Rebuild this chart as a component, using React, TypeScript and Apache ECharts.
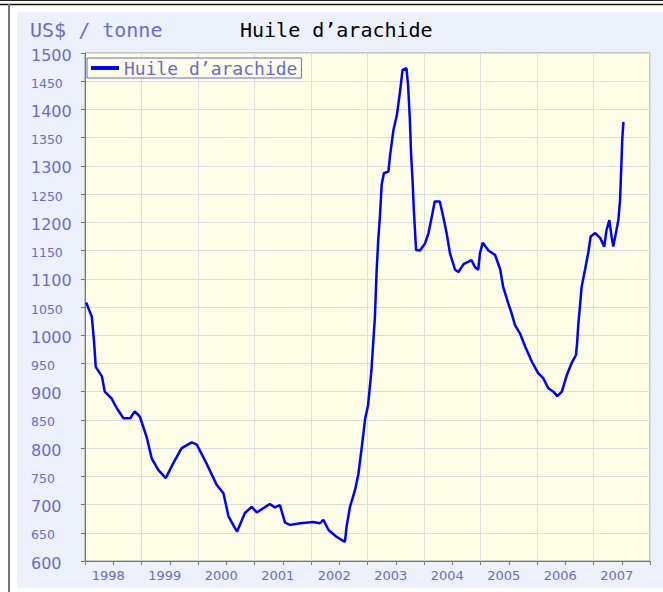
import React, { useEffect, useRef } from "react";
import * as echarts from "echarts";

const seriesName = "Huile d’arachide";
const unitLabel = "US$ / tonne";
const yearLabels = [1998, 1999, 2000, 2001, 2002, 2003, 2004, 2005, 2006, 2007];

// decimal-year positions of the readings
const times = [
  1998.02, 1998.12, 1998.16, 1998.19, 1998.3, 1998.35, 1998.47, 1998.56, 1998.68, 1998.8,
  1998.88, 1998.97, 1999.09, 1999.18, 1999.3, 1999.43, 1999.56, 1999.71, 1999.89, 1999.98,
  2000.15, 2000.33, 2000.45, 2000.54, 2000.69, 2000.83, 2000.95, 2001.04, 2001.27, 2001.36,
  2001.45, 2001.54, 2001.63, 2001.81, 2002.04, 2002.16, 2002.22, 2002.31, 2002.45, 2002.6,
  2002.63, 2002.69, 2002.78, 2002.84, 2002.9, 2002.96, 2003.01, 2003.07, 2003.1, 2003.13,
  2003.16, 2003.19, 2003.22, 2003.25, 2003.29, 2003.37, 2003.4, 2003.46, 2003.52, 2003.58,
  2003.62, 2003.69, 2003.72, 2003.75, 2003.77, 2003.8, 2003.82, 2003.86, 2003.93, 2004.02,
  2004.08, 2004.15, 2004.19, 2004.28, 2004.34, 2004.4, 2004.46, 2004.55, 2004.61, 2004.7,
  2004.84, 2004.9, 2004.96, 2004.99, 2005.04, 2005.14, 2005.26, 2005.35, 2005.4, 2005.49,
  2005.55, 2005.61, 2005.7, 2005.79, 2005.91, 2006.02, 2006.11, 2006.2, 2006.29, 2006.36,
  2006.44, 2006.53, 2006.61, 2006.69, 2006.71, 2006.73, 2006.76, 2006.79, 2006.85, 2006.91,
  2006.95, 2007.03, 2007.12, 2007.19, 2007.23, 2007.28, 2007.32, 2007.35, 2007.4, 2007.44,
  2007.47, 2007.49, 2007.51, 2007.53,
];

const prices = [
  1058, 1033, 989, 944, 927, 900, 888, 871, 853, 853,
  865, 856, 820, 782, 761, 747, 773, 800, 810, 806,
  773, 735, 720, 679, 652, 685, 696, 686, 701, 695,
  699, 668, 664, 667, 669, 667, 673, 655, 643, 634,
  661, 696, 726, 755, 803, 853, 876, 938, 985, 1030,
  1110, 1169, 1210, 1266, 1287, 1290, 1319, 1364, 1390, 1435,
  1470, 1473, 1440, 1381, 1325, 1269, 1222, 1151, 1150, 1163,
  1181, 1216, 1237, 1237, 1210, 1181, 1145, 1116, 1112, 1126,
  1133, 1121, 1116, 1145, 1164, 1150, 1142, 1116, 1086, 1057,
  1039, 1018, 1003, 980, 953, 933, 924, 906, 900, 892,
  900, 930, 950, 965, 986, 1018, 1051, 1086, 1116, 1148,
  1175, 1181, 1172, 1157, 1186, 1204, 1175, 1157, 1183, 1204,
  1240, 1293, 1349, 1378,
];

export default function App() {
  const ref = useRef<HTMLDivElement>(null);

  useEffect(() => {
    if (!ref.current) return;
    const chart = echarts.init(ref.current, null, { renderer: "svg" });
    const labelColor = "#6b6bd0";
    const data = times.map((t, i) => [t, prices[i]]);
    chart.setOption({
      animation: false,
      backgroundColor: "#edf1fb",
      graphic: [
        { type: "rect", z: 100, shape: { x: 0, y: 0, width: 17, height: 592 }, style: { fill: "#ffffff" } },
        { type: "rect", z: 100, shape: { x: 0, y: 0, width: 663, height: 12 }, style: { fill: "#ffffff" } },
        { type: "rect", z: 100, shape: { x: 0, y: 588, width: 663, height: 4 }, style: { fill: "#ffffff" } },
        { type: "line", z: 101, shape: { x1: 0, y1: 0.5, x2: 663, y2: 0.5 }, style: { stroke: "#222", lineWidth: 1 } },
        { type: "line", z: 101, shape: { x1: 0, y1: 4.5, x2: 663, y2: 4.5 }, style: { stroke: "#111", lineWidth: 1.5 } },
        { type: "line", z: 101, shape: { x1: 9, y1: 4, x2: 9, y2: 592 }, style: { stroke: "#777", lineWidth: 2 } },
        {
          type: "text", z: 102, x: 30, y: 30,
          style: { text: unitLabel, fill: labelColor, font: "20px 'DejaVu Sans Mono'", verticalAlign: "middle" },
        },
        {
          type: "text", z: 102, x: 240, y: 30,
          style: { text: seriesName, fill: "#000000", font: "20px 'DejaVu Sans Mono'", verticalAlign: "middle" },
        },
      ],
      legend: {
        data: [seriesName],
        left: 87,
        top: 58,
        padding: [1, 4, 1, 4],
        icon: "rect",
        itemWidth: 28,
        itemHeight: 4,
        borderColor: labelColor,
        borderWidth: 1,
        backgroundColor: "#fefde7",
        textStyle: { color: labelColor, fontFamily: "DejaVu Sans Mono", fontSize: 18 },
      },
      grid: {
        left: 85,
        top: 53,
        right: 13,
        bottom: 31,
        show: true,
        backgroundColor: "#fefde7",
        borderColor: "#999999",
        borderWidth: 1,
      },
      xAxis: [
        {
          type: "value",
          min: 1998,
          max: 2008,
          interval: 1,
          axisLine: { show: true, lineStyle: { color: "#777" } },
          axisTick: { show: false },
          axisLabel: { show: false },
          splitLine: { show: true, lineStyle: { color: "#dddddd", width: 1 } },
        },
        {
          type: "value",
          min: 1998,
          max: 2008,
          interval: 0.5,
          position: "bottom",
          axisLine: { show: false },
          axisTick: { show: true, length: 4, lineStyle: { color: "#777" } },
          splitLine: { show: false },
          axisLabel: {
            color: labelColor,
            fontFamily: "DejaVu Sans",
            fontSize: 13,
            margin: 8,
            padding: [0, 10, 0, 0],
            formatter: (v: number) => {
              const f = Math.round((v % 1) * 10);
              if (f !== 5) return "";
              const y = Math.floor(v);
              return yearLabels.includes(y) ? String(y) : "";
            },
          },
        },
      ],
      yAxis: {
        type: "value",
        min: 600,
        max: 1500,
        interval: 50,
        axisLine: { show: true, lineStyle: { color: "#777" } },
        axisTick: { show: true, length: 4, lineStyle: { color: "#777" } },
        splitLine: { show: true, lineStyle: { color: "#dddddd", width: 1 } },
        axisLabel: {
          align: "left",
          margin: 54,
          formatter: (v: number) => (v % 100 === 0 ? `{a|${v}}` : `{b|${v}}`),
          rich: {
            a: { color: labelColor, fontFamily: "DejaVu Sans", fontSize: 16, padding: [4, 0, 0, 0] },
            b: { color: labelColor, fontFamily: "DejaVu Sans", fontSize: 12.5, padding: [4, 0, 0, 0] },
          },
        },
      },
      series: [
        {
          name: seriesName,
          type: "line",
          xAxisIndex: 0,
          data,
          showSymbol: false,
          lineStyle: { color: "#0000ff", width: 2.5 },
          itemStyle: { color: "#0000ff" },
        },
      ],
    });
    return () => chart.dispose();
  }, []);

  return (
    <div
      ref={ref}
      style={{ position: "absolute", left: 0, top: 0, width: 663, height: 592 }}
    />
  );
}
